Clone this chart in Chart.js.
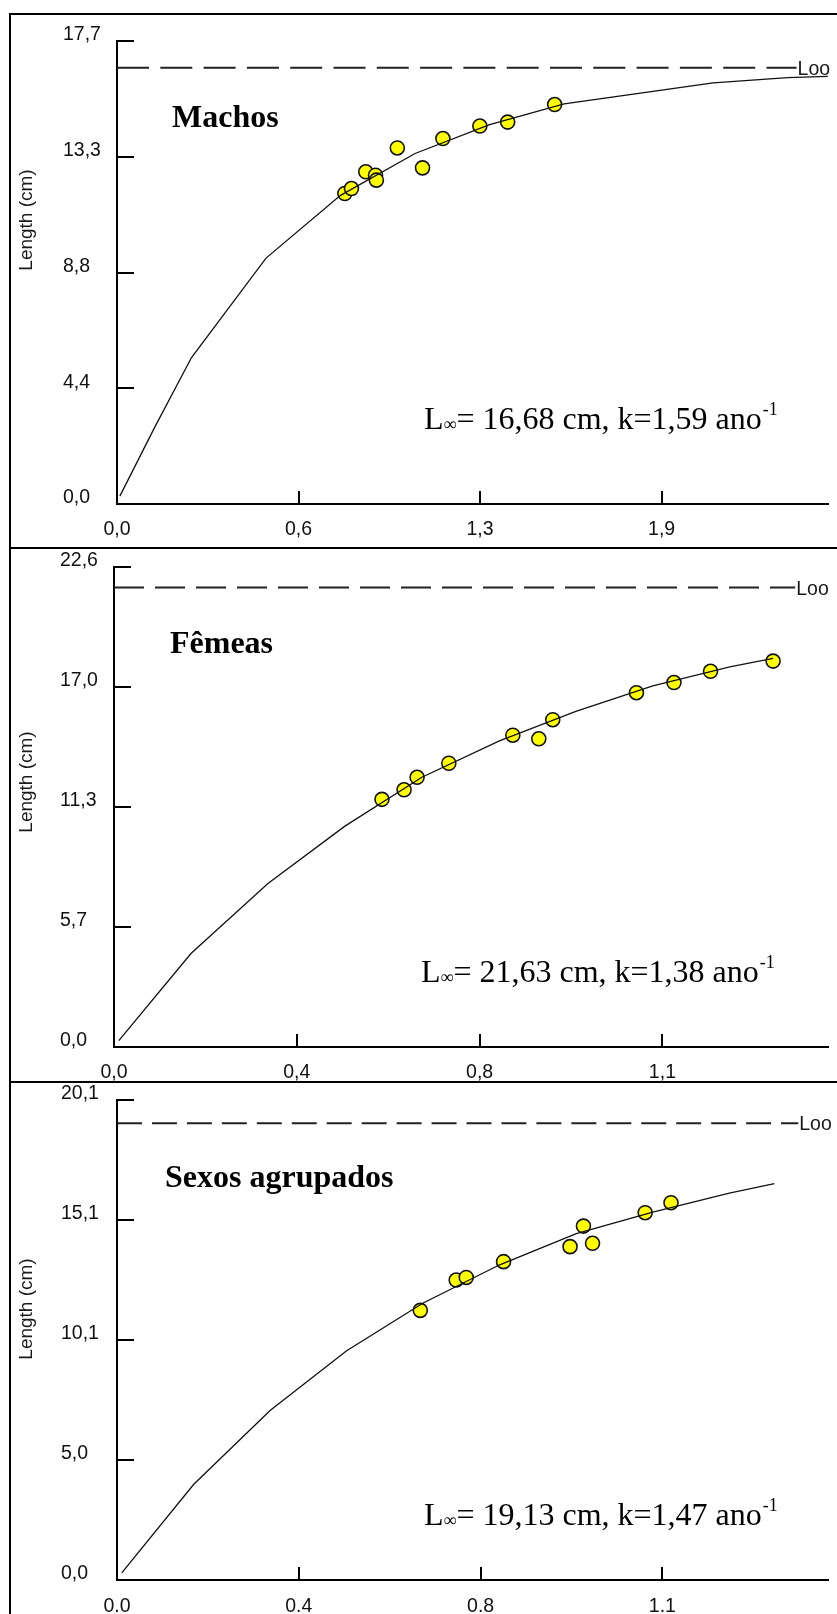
<!DOCTYPE html>
<html>
<head>
<meta charset="utf-8">
<script src="https://cdn.jsdelivr.net/npm/chart.js@4.4.1/dist/chart.umd.min.js"></script>
<style>
html, body { margin: 0; padding: 0; background: #fff; overflow: hidden; }
body { width: 837px; height: 1614px; position: relative; }
canvas { position: absolute; left: 0; }
.rule { position: absolute; background: #000; }
</style>
</head>
<body>
<canvas id="c1" width="837" height="548" style="top:0px"></canvas>
<canvas id="c2" width="837" height="534" style="top:548px"></canvas>
<canvas id="c3" width="837" height="532" style="top:1082px"></canvas>
<div class="rule" style="left:9px;top:13px;width:828px;height:2px"></div>
<div class="rule" style="left:9px;top:13px;width:2px;height:1601px"></div>
<div class="rule" style="left:9px;top:547px;width:828px;height:2px"></div>
<div class="rule" style="left:9px;top:1081px;width:828px;height:2px"></div>
<script>
// Machos
const curveAge1 = [0.01, 0.13, 0.26, 0.52, 0.78, 1.04, 1.30, 1.56, 1.82, 2.08, 2.34, 2.48]
const curveLen1 = [0.3, 2.9, 5.6, 9.4, 11.8, 13.4, 14.5, 15.3, 15.7, 16.1, 16.3, 16.35]
const obsAge1 = [0.795, 0.818, 0.868, 0.902, 0.905, 0.978, 1.066, 1.137, 1.266, 1.363, 1.527]
const obsLen1 = [11.87, 12.06, 12.70, 12.57, 12.38, 13.61, 12.85, 13.97, 14.45, 14.60, 15.27]

// Fêmeas
const curveAge2 = [0.01, 0.16, 0.32, 0.48, 0.64, 0.80, 0.96, 1.12, 1.28, 1.37]
const curveLen2 = [0.3, 4.4, 7.7, 10.4, 12.7, 14.4, 15.8, 17.0, 17.9, 18.3]
const obsAge2 = [0.557, 0.603, 0.630, 0.696, 0.829, 0.883, 0.912, 1.086, 1.164, 1.240, 1.370]
const obsLen2 = [11.66, 12.11, 12.70, 13.36, 14.68, 14.51, 15.41, 16.68, 17.16, 17.69, 18.17]

// Sexos agrupados
const curveAge3 = [0.01, 0.16, 0.32, 0.48, 0.64, 0.80, 0.96, 1.12, 1.28, 1.374]
const curveLen3 = [0.3, 4.0, 7.1, 9.6, 11.6, 13.2, 14.5, 15.4, 16.2, 16.6]
const obsAge3 = [0.634, 0.709, 0.730, 0.808, 0.947, 0.975, 0.994, 1.104, 1.158]
const obsLen3 = [11.29, 12.56, 12.67, 13.33, 13.96, 14.82, 14.10, 15.38, 15.80]

const panelNames = ["Machos", "Fêmeas", "Sexos agrupados"]
const linf = [16.68, 21.63, 19.13]
const kGrowth = [1.59, 1.38, 1.47]
const looEnd = [2.371, 1.416, 1.424]

const yMax = [17.7, 22.6, 20.1]
const yTicks1 = [0, 4.425, 8.85, 13.275, 17.7]
const yTicks2 = [0, 5.65, 11.3, 16.95, 22.6]
const yTicks3 = [0, 5.025, 10.05, 15.075, 20.1]
const yLabels1 = ["0,0", "4,4", "8,8", "13,3", "17,7"]
const yLabels2 = ["0,0", "5,7", "11,3", "17,0", "22,6"]
const yLabels3 = ["0,0", "5,0", "10,1", "15,1", "20,1"]

const xMax = [2.482, 1.485, 1.487]
const xTicks1 = [0, 0.6333, 1.2667, 1.9]
const xTicks2 = [0, 0.38, 0.76, 1.14]
const xTicks3 = [0, 0.38, 0.76, 1.14]
const xLabels1 = ["0,0", "0,6", "1,3", "1,9"]
const xLabels2 = ["0,0", "0,4", "0,8", "1,1"]
const xLabels3 = ["0.0", "0.4", "0.8", "1.1"]

Chart.defaults.font.family = '"Liberation Sans", Arial, sans-serif'

function pts(xs, ys) {
    return xs.map((x, i) => ({x: x, y: ys[i]}))
}

function comma(v) {
    return v.toFixed(2).replace(".", ",")
}

const decor = {
    id: "decor",
    afterDraw(chart, args, o) {
        const ctx = chart.ctx
        const xs = chart.scales.x, ys = chart.scales.y, a = chart.chartArea
        ctx.save()
        // inward tick marks
        ctx.strokeStyle = "#000"
        ctx.lineWidth = 2
        ys.ticks.forEach(t => {
            const py = Math.round(ys.getPixelForValue(t.value))
            ctx.beginPath(); ctx.moveTo(a.left, py); ctx.lineTo(a.left + 17, py); ctx.stroke()
        })
        xs.ticks.forEach(t => {
            if (!t.value) return
            const px = Math.round(xs.getPixelForValue(t.value))
            ctx.beginPath(); ctx.moveTo(px, a.bottom); ctx.lineTo(px, a.bottom - 13); ctx.stroke()
        })

        ctx.fillStyle = "#1a1a1a"
        ctx.font = '19.5px "Liberation Sans", Arial, sans-serif'
        ctx.fillText("Loo", xs.getPixelForValue(o.looEnd) + 1, ys.getPixelForValue(o.linf) + 7)

        // y axis title
        ctx.save()
        ctx.translate(27, o.titleY)
        ctx.rotate(-Math.PI / 2)
        ctx.textAlign = "center"
        ctx.textBaseline = "middle"
        ctx.font = '19px "Liberation Sans", Arial, sans-serif'
        ctx.fillText("Length (cm)", 0, 0)
        ctx.restore()

        ctx.fillStyle = "#000"
        ctx.font = 'bold 32px "Liberation Serif", "Times New Roman", serif'
        ctx.fillText(o.name, o.nameX, o.nameY)

        // L∞= ..., k=... ano-1
        let fx = o.fx
        const fb = o.fy
        ctx.font = '32px "Liberation Serif", "Times New Roman", serif'
        ctx.fillText("L", fx, fb)
        fx += ctx.measureText("L").width
        ctx.font = '18px "Liberation Serif", "Times New Roman", serif'
        ctx.fillText("\u221E", fx, fb + 1)
        fx += ctx.measureText("\u221E").width
        ctx.font = '32px "Liberation Serif", "Times New Roman", serif'
        const main = "= " + comma(o.linf) + " cm, k=" + comma(o.k) + " ano"
        ctx.fillText(main, fx, fb)
        fx += ctx.measureText(main).width
        ctx.font = '18px "Liberation Serif", "Times New Roman", serif'
        ctx.fillText("-1", fx + 1, fb - 14)
        ctx.restore()
    }
}

function createPanel(canvasId, i, curve, obs, xTicks, xLabels, yTicks, yLabels, box) {
    const ctx = document.getElementById(canvasId)
    const tickFont = {family: '"Liberation Sans", Arial, sans-serif', size: 19.5}

    return new Chart(ctx, {
        type: "scatter",
        data: {
            datasets: [{
                data: curve,
                showLine: true,
                pointRadius: 0,
                borderColor: "#111",
                borderWidth: 1.3,
                tension: 0,
                order: 0
            }, {
                data: obs,
                pointRadius: 7,
                backgroundColor: "#ffff00",
                borderColor: "#111",
                borderWidth: 1.6,
                order: 1
            }, {
                data: [{x: 0, y: linf[i]}, {x: looEnd[i], y: linf[i]}],
                showLine: true,
                pointRadius: 0,
                borderColor: "#222",
                borderWidth: 2,
                borderDash: box.dash,
                order: 2
            }]
        },
        options: {
            responsive: false,
            animation: false,
            events: [],
            layout: {padding: {left: box.labelX, top: box.top, right: 837 - box.right, bottom: 0}},
            scales: {
                x: {
                    type: "linear",
                    min: 0,
                    max: xMax[i],
                    afterBuildTicks: s => { s.ticks = xTicks.map(v => ({value: v})) },
                    afterFit: s => { s.height = box.xh },
                    grid: {display: false, drawTicks: false},
                    border: {display: true, color: "#000", width: 2},
                    ticks: {
                        autoSkip: false, maxRotation: 0, padding: box.xpad,
                        color: "#111", font: tickFont,
                        callback: (v, idx) => xLabels[idx]
                    }
                },
                y: {
                    type: "linear",
                    min: 0,
                    max: yMax[i],
                    afterBuildTicks: s => { s.ticks = yTicks.map(v => ({value: v})) },
                    afterFit: s => { s.width = box.left - box.labelX },
                    grid: {display: false, drawTicks: false},
                    border: {display: true, color: "#000", width: 2},
                    ticks: {
                        autoSkip: false, crossAlign: "far", labelOffset: -6, padding: 0,
                        color: "#111", font: tickFont,
                        callback: (v, idx) => yLabels[idx]
                    }
                }
            },
            plugins: {
                legend: {display: false},
                tooltip: {enabled: false},
                decor: {
                    name: panelNames[i], nameX: box.nameX, nameY: box.nameY,
                    fx: box.fx, fy: box.fy, titleY: box.titleY,
                    linf: linf[i], k: kGrowth[i], looEnd: looEnd[i]
                }
            }
        },
        plugins: [decor]
    })
}

createPanel("c1", 0, pts(curveAge1, curveLen1), pts(obsAge1, obsLen1), xTicks1, xLabels1, yTicks1, yLabels1,
    {top: 41, left: 117, right: 830, xh: 44, labelX: 63, xpad: 13.6, dash: [32, 11.3],
     nameX: 172, nameY: 127, fx: 424, fy: 429, titleY: 220})

createPanel("c2", 1, pts(curveAge2, curveLen2), pts(obsAge2, obsLen2), xTicks2, xLabels2, yTicks2, yLabels2,
    {top: 19, left: 114, right: 833, xh: 35, labelX: 60, xpad: 14.3, dash: [30, 11],
     nameX: 170, nameY: 105, fx: 421, fy: 434, titleY: 234})

createPanel("c3", 2, pts(curveAge3, curveLen3), pts(obsAge3, obsLen3), xTicks3, xLabels3, yTicks3, yLabels3,
    {top: 18, left: 117, right: 837, xh: 34, labelX: 61, xpad: 15.3, dash: [25, 9.95],
     nameX: 165, nameY: 105, fx: 424, fy: 443, titleY: 227})
</script>
</body>
</html>
